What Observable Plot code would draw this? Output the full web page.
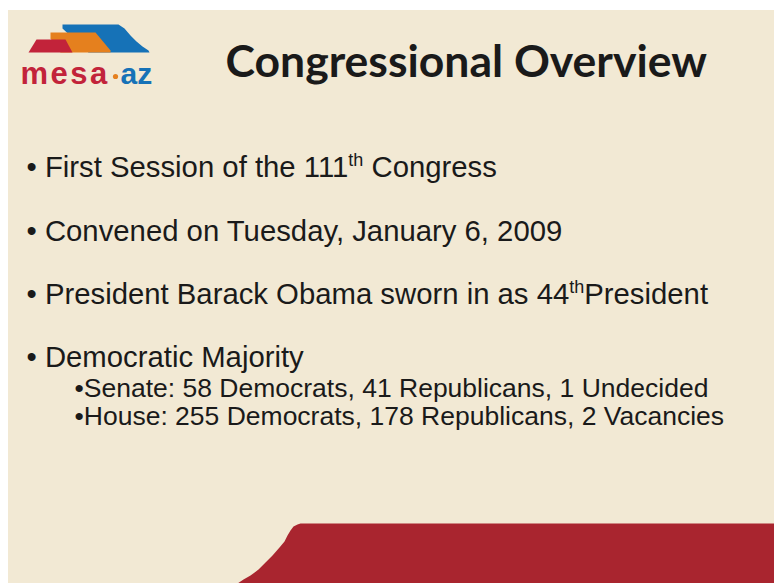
<!DOCTYPE html>
<html>
<head>
<meta charset="utf-8">
<script src="https://cdn.jsdelivr.net/npm/d3@7"></script>
<script src="https://cdn.jsdelivr.net/npm/@observablehq/plot@0.6"></script>
<style>
  html, body { margin: 0; padding: 0; background: #ffffff; }
  #chart svg { display: block; }
</style>
</head>
<body>
<div id="chart"></div>
<script>
// ---- slide content ----
const title = "Congressional Overview";
const bullets = [
  "• First Session of the 111^th Congress",
  "• Convened on Tuesday, January 6, 2009",
  "• President Barack Obama sworn in as 44^thPresident",
  "• Democratic Majority"
];
const subBullets = [
  "•Senate: 58 Democrats, 41 Republicans, 1 Undecided",
  "•House: 255 Democrats, 178 Republicans, 2 Vacancies"
];
const bulletRows = [176, 240, 303, 366];
const subRows = [396, 424];
const logoWords = ["mesa", "az"];

// ---- decorative shapes (slide pixel space) ----
const slideX = [8, 774];
const slideY = [10, 583];
const bandX = [237, 243, 250, 258, 265, 272, 279, 284, 287, 290, 293, 297, 300, 774, 774];
const bandY = [583, 579, 575, 569, 562, 555, 547, 541, 535, 530, 526, 524, 523, 523, 583];
const blueX = [62, 118, 124, 130, 136, 142, 148, 149, 88, 62];
const blueY = [24, 24, 28, 35, 41, 46, 50, 52, 52, 28];
const orangeX = [50, 95, 110, 110, 60, 50];
const orangeY = [32, 32, 50, 52, 52, 38];
const redX = [36, 65, 72, 28];
const redY = [39, 39, 52, 52];

const poly = (xs, ys, color, name) => xs.map((x, i) => ({x, y: ys[i], color, name}));
const logoShapes = [
  ...poly(blueX, blueY, "#1672b7", "blue"),
  ...poly(orangeX, orangeY, "#e5801e", "orange"),
  ...poly(redX, redY, "#c2233a", "red")
];
const band = poly(bandX, bandY, "#a9252f", "band");

const bulletData = bullets.map((t, i) => ({t, y: bulletRows[i]}));
const subData = subBullets.map((t, i) => ({t, y: subRows[i]}));

const bodyFont = "'Liberation Sans', Arial, sans-serif";

const chart = Plot.plot({
  width: 774,
  height: 583,
  margin: 0,
  x: {domain: [0, 774], range: [0, 774], axis: null},
  y: {domain: [0, 583], range: [0, 583], axis: null},
  color: {type: "identity"},
  marks: [
    Plot.rect([{x1: slideX[0], x2: slideX[1], y1: slideY[0], y2: slideY[1]}],
      {x1: "x1", x2: "x2", y1: "y1", y2: "y2", fill: "#f2e9d4"}),
    Plot.line(band, {x: "x", y: "y", z: "name", fill: "color", stroke: "none"}),
    Plot.line(logoShapes, {x: "x", y: "y", z: "name", fill: "color", stroke: "none"}),
    Plot.text([logoWords[0]], {x: 20, y: 83, text: d => d, textAnchor: "start", lineAnchor: "bottom",
      fill: "#c2233a", fontSize: 31, fontWeight: "bold", fontFamily: bodyFont, className: "logo-mesa"}),
    Plot.dot([0], {x: 115, y: 76, r: 2.6, fill: "#e5801e"}),
    Plot.text([logoWords[1]], {x: 120, y: 83, text: d => d, textAnchor: "start", lineAnchor: "bottom",
      fill: "#1672b7", fontSize: 30, fontWeight: "bold", fontFamily: bodyFont}),
    Plot.text([title], {x: 225, y: 76, text: d => d, textAnchor: "start", lineAnchor: "bottom",
      fill: "#1a1a1a", fontSize: 44.5, fontWeight: "bold", fontFamily: "Lato, 'Open Sans', sans-serif"}),
    Plot.text(bulletData, {x: 26, y: "y", text: "t", textAnchor: "start", lineAnchor: "bottom",
      fill: "#1a1a1a", fontSize: 29.3, fontFamily: bodyFont}),
    Plot.text(subData, {x: 74, y: "y", text: "t", textAnchor: "start", lineAnchor: "bottom",
      fill: "#1a1a1a", fontSize: 26.5, fontFamily: bodyFont})
  ]
});

d3.select(chart).selectAll(".logo-mesa text").attr("letter-spacing", 2.5);

// superscripts: "^xx" marks the raised part
d3.select(chart).selectAll("text").each(function() {
  const el = d3.select(this);
  const s = el.text();
  const m = s.match(/^(.*?)\^([a-z]+)(.*)$/);
  if (!m) return;
  el.text(null);
  el.append("tspan").text(m[1]);
  el.append("tspan").attr("dy", -11).attr("font-size", 18).text(m[2]);
  el.append("tspan").attr("dy", 11).text(m[3]);
});

document.getElementById("chart").append(chart);
</script>
</body>
</html>
